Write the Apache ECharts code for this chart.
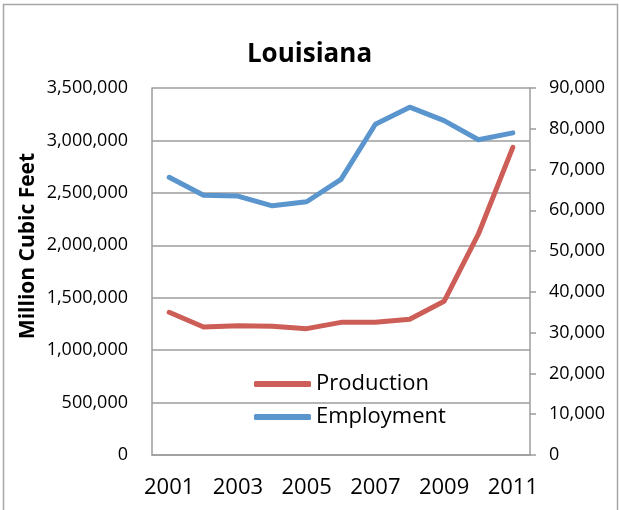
<!DOCTYPE html>
<html>
<head>
<meta charset="utf-8">
<script src="https://cdn.jsdelivr.net/npm/echarts@6/dist/echarts.min.js"></script>
<style>
  html, body { margin: 0; padding: 0; background: #fff; }
  #chart { width: 619px; height: 510px; }
</style>
</head>
<body>
<div id="chart"></div>
<script>
// Louisiana natural gas: marketed production (million cubic feet) and employment
const years = ['2001','2002','2003','2004','2005','2006','2007','2008','2009','2010','2011'];
const production = [1361000, 1221000, 1233000, 1227000, 1205000, 1265000, 1265000, 1294000, 1466000, 2108000, 2934000];
const employment = [68100, 63700, 63500, 61100, 62100, 67600, 81100, 85300, 82000, 77300, 79000];
const productionTicks = { min: 0, max: 3500000, step: 500000 };
const employmentTicks = { min: 0, max: 90000, step: 10000 };
const productionAxisTitle = 'Million Cubic Feet';

const FONT = '"Open Sans", "Liberation Sans", sans-serif';
const GRID_GRAY = '#9c9c9c';
const RED = '#CD5D57';
const BLUE = '#5B95CD';

function withCommas(v) {
  return String(v).replace(/\B(?=(\d{3})+(?!\d))/g, ',');
}

const chart = echarts.init(document.getElementById('chart'), null, { renderer: 'canvas' });

chart.setOption({
  backgroundColor: '#ffffff',
  animation: false,
  graphic: [{
    type: 'rect',
    silent: true,
    shape: { x: 3.5, y: 4.5, width: 614, height: 530 },
    style: { fill: 'none', stroke: '#a6a6a6', lineWidth: 1.5 }
  }, {
    // left axis title, sitting a little above the axis midpoint
    type: 'text',
    silent: true,
    x: 28,
    y: 246,
    rotation: Math.PI / 2,
    style: {
      text: productionAxisTitle,
      fontFamily: FONT,
      fontSize: 21,
      fontWeight: 'bold',
      fill: '#000',
      align: 'center',
      verticalAlign: 'middle'
    }
  }],
  title: {
    text: 'Louisiana',
    left: 'center',
    top: 37,
    textStyle: { fontFamily: FONT, fontSize: 26, fontWeight: 'bold', color: '#000' }
  },
  grid: { left: 152, right: 89, top: 88, bottom: 55, containLabel: false },
  legend: {
    orient: 'vertical',
    left: 249,
    top: 366,
    itemWidth: 57,
    itemHeight: 6,
    itemGap: 7,
    icon: 'roundRect',
    textStyle: { fontFamily: FONT, fontSize: 22, color: '#000', lineHeight: 26 },
    data: ['Production', 'Employment']
  },
  xAxis: {
    type: 'category',
    data: years,
    boundaryGap: true,
    axisLine: { show: true, lineStyle: { color: GRID_GRAY, width: 1.5 } },
    axisTick: { show: false },
    axisLabel: {
      interval: 1,
      margin: 22,
      fontFamily: FONT,
      fontSize: 22,
      color: '#000'
    }
  },
  yAxis: [{
    type: 'value',
    min: productionTicks.min,
    max: productionTicks.max,
    interval: productionTicks.step,
    position: 'left',
    axisLine: { show: true, lineStyle: { color: GRID_GRAY, width: 1.5 } },
    axisTick: { show: false },
    splitLine: { show: true, lineStyle: { color: GRID_GRAY, width: 1.5 } },
    axisLabel: {
      margin: 24,
      fontFamily: FONT,
      fontSize: 18,
      color: '#000',
      formatter: withCommas
    }
  }, {
    type: 'value',
    min: employmentTicks.min,
    max: employmentTicks.max,
    interval: employmentTicks.step,
    position: 'right',
    axisLine: { show: true, lineStyle: { color: GRID_GRAY, width: 1.5 } },
    axisTick: { show: true, inside: false, length: 6, lineStyle: { color: GRID_GRAY, width: 1.5 } },
    splitLine: { show: false },
    axisLabel: {
      margin: 19,
      fontFamily: FONT,
      fontSize: 18,
      color: '#000',
      formatter: withCommas
    }
  }],
  series: [{
    name: 'Production',
    type: 'line',
    yAxisIndex: 0,
    data: production,
    symbol: 'none',
    color: RED,
    lineStyle: { color: RED, width: 5, cap: 'round', join: 'round' }
  }, {
    name: 'Employment',
    type: 'line',
    yAxisIndex: 1,
    data: employment,
    symbol: 'none',
    color: BLUE,
    lineStyle: { color: BLUE, width: 5, cap: 'round', join: 'round' }
  }]
});
</script>
</body>
</html>
